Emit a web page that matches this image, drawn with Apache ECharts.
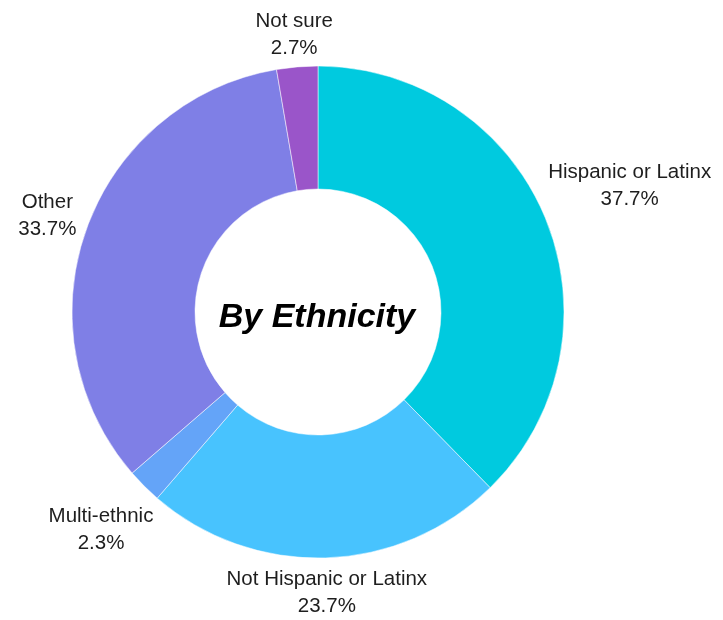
<!DOCTYPE html>
<html>
<head>
<meta charset="utf-8">
<script src="https://cdn.jsdelivr.net/npm/echarts@6/dist/echarts.min.js"></script>
<style>
  html, body { margin: 0; padding: 0; background: #fff; }
  #chart { width: 723px; height: 620px; }
</style>
</head>
<body>
<div id="chart"></div>
<script>
const categories = ['Hispanic or Latinx', 'Not Hispanic or Latinx', 'Multi-ethnic', 'Other', 'Not sure']
const values = [37.7, 23.7, 2.3, 33.7, 2.7]
const colors = ['#00cadf', '#48c3fe', '#64a4f8', '#7f7fe6', '#9a55c9']

const cx = 318
const cy = 312
const rInner = 123
const rOuter = 246

const total = values.reduce((a, b) => a + b, 0)
// mid angle of each slice, clockwise from 12 o'clock
let acc = 0
const midAngles = values.map(v => {
  const mid = (acc + v / 2) / total * Math.PI * 2
  acc += v
  return mid
})

const chart = echarts.init(document.getElementById('chart'))

const option = {
  animation: false,
  title: {
    text: 'By Ethnicity',
    left: cx - 6,
    top: cy + 1,
    textAlign: 'center',
    textVerticalAlign: 'middle',
    textStyle: {
      fontFamily: 'Liberation Sans, Arial, sans-serif',
      fontSize: 34,
      fontWeight: 'bold',
      fontStyle: 'italic',
      color: '#000'
    }
  },
  series: [{
    type: 'pie',
    center: [cx, cy],
    radius: [rInner, rOuter],
    startAngle: 90,
    clockwise: true,
    avoidLabelOverlap: false,
    itemStyle: {
      borderColor: '#fff',
      borderWidth: 0.5
    },
    label: {
      show: true,
      position: 'outside',
      formatter: p => p.name + '\n' + p.value.toFixed(1) + '%',
      fontFamily: 'Liberation Sans, Arial, sans-serif',
      fontSize: 20.5,
      lineHeight: 27,
      color: '#1e1e1e'
    },
    labelLine: { show: false },
    labelLayout: function (params) {
      const a = midAngles[params.dataIndex]
      const dx = Math.sin(a)
      const dy = -Math.cos(a)
      const hw = params.labelRect.width / 2
      const hh = params.labelRect.height / 2
      const d = rOuter + 5 + Math.abs(dx) * hw + Math.abs(dy) * hh
      return {
        x: cx + dx * d,
        y: cy + dy * d + (dy < 0 ? 3 * -dy : 0),
        align: 'center',
        verticalAlign: 'middle'
      }
    },
    data: categories.map((name, i) => ({
      name: name,
      value: values[i],
      itemStyle: { color: colors[i] }
    }))
  }]
}

chart.setOption(option)
</script>
</body>
</html>
